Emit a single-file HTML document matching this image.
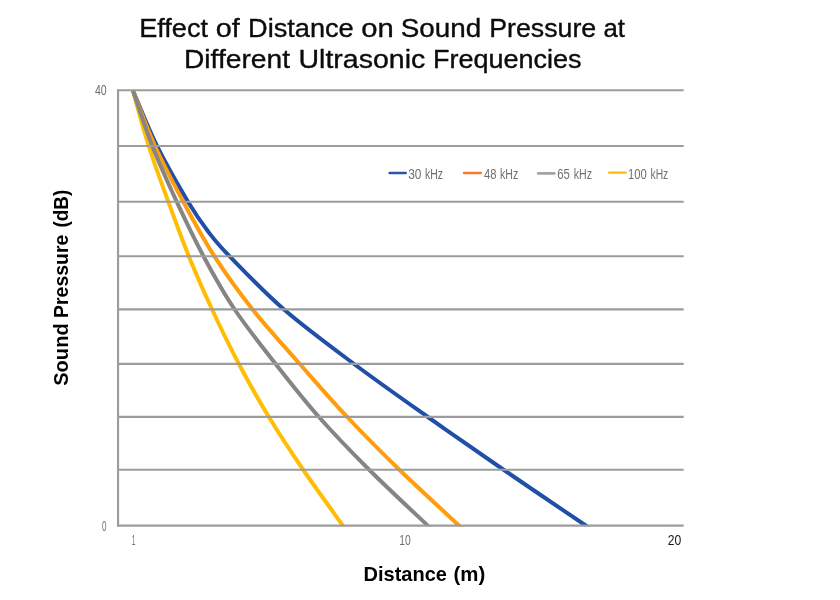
<!DOCTYPE html>
<html><head><meta charset="utf-8"><title>Chart</title>
<style>
html,body{margin:0;padding:0;background:#fff;}
body{width:840px;height:600px;overflow:hidden;font-family:"Liberation Sans",sans-serif;}
svg{display:block;will-change:transform;}
text{font-family:"Liberation Sans",sans-serif;}
</style></head><body>
<svg width="840" height="600" viewBox="0 0 840 600">
<rect width="840" height="600" fill="#fff"/>
<defs><clipPath id="cp"><rect x="110" y="89.2" width="600" height="437.0"/></clipPath></defs>
<g clip-path="url(#cp)">
<path d="M132.80 90.20 C136.83 99.50 147.80 127.42 157.00 146.00 C166.20 164.58 179.45 187.42 188.00 201.70 C196.55 215.98 201.38 222.62 208.30 231.70 C215.22 240.78 216.93 243.27 229.50 256.20 C242.07 269.12 263.04 291.32 283.75 309.25 C304.46 327.18 329.79 345.83 353.75 363.75 C377.71 381.67 402.59 399.12 427.50 416.75 C452.41 434.38 476.83 451.38 503.20 469.50 C529.57 487.62 571.95 516.17 585.70 525.50 L590.66 528.87" fill="none" stroke="#204fa8" stroke-width="4" stroke-linejoin="round"/>
<path d="M132.80 90.20 C136.50 99.50 146.60 127.42 155.00 146.00 C163.40 164.58 173.32 183.33 183.20 201.70 C193.08 220.07 202.77 238.27 214.30 256.20 C225.83 274.12 238.18 291.32 252.40 309.25 C266.62 327.18 283.83 345.83 299.60 363.75 C315.37 381.67 330.42 399.12 347.00 416.75 C363.58 434.38 380.43 451.38 399.10 469.50 C417.77 487.62 449.02 516.17 459.00 525.50 L463.38 529.60" fill="none" stroke="#ff9d0c" stroke-width="4" stroke-linejoin="round"/>
<path d="M132.80 90.20 C135.45 99.50 142.78 127.42 148.70 146.00 C154.62 164.58 161.62 183.33 168.30 201.70 C174.98 220.07 181.52 238.27 188.80 256.20 C196.08 274.12 203.68 291.32 212.00 309.25 C220.32 327.18 229.29 345.83 238.75 363.75 C248.21 381.67 258.04 399.12 268.75 416.75 C279.46 434.38 290.66 451.38 303.00 469.50 C315.34 487.62 336.17 516.17 342.80 525.50 L346.28 530.39" fill="none" stroke="#ffbd03" stroke-width="4" stroke-linejoin="round"/>
<path d="M132.80 90.20 C136.05 99.50 144.98 127.42 152.30 146.00 C159.62 164.58 168.17 183.33 176.70 201.70 C185.23 220.07 193.87 238.27 203.50 256.20 C213.13 274.12 222.50 291.32 234.50 309.25 C246.50 327.18 261.46 345.83 275.50 363.75 C289.54 381.67 303.18 399.12 318.75 416.75 C334.32 434.38 350.76 451.38 368.90 469.50 C387.04 487.62 417.82 516.17 427.60 525.50 L431.94 529.64" fill="none" stroke="#868584" stroke-width="4" stroke-linejoin="round"/>
</g>
<g stroke="#9c9c9c" stroke-width="2.15" fill="none">
<line x1="117" y1="90.2" x2="683.7" y2="90.2"/>
<line x1="117" y1="146.0" x2="683.7" y2="146.0"/>
<line x1="117" y1="201.7" x2="683.7" y2="201.7"/>
<line x1="117" y1="256.2" x2="683.7" y2="256.2"/>
<line x1="117" y1="309.4" x2="683.7" y2="309.4"/>
<line x1="117" y1="363.8" x2="683.7" y2="363.8"/>
<line x1="117" y1="416.9" x2="683.7" y2="416.9"/>
<line x1="117" y1="469.7" x2="683.7" y2="469.7"/>
<line x1="117" y1="525.6" x2="683.7" y2="525.6"/>
<line x1="118.05" y1="89.2" x2="118.05" y2="526.6"/>
</g>
<g fill="#0c0c0c" stroke="#0c0c0c" stroke-width="0.35" font-size="25.1">
<text x="139.25" y="37.0" textLength="68.75" lengthAdjust="spacingAndGlyphs">Effect</text>
<text x="215.75" y="37.0" textLength="24.00" lengthAdjust="spacingAndGlyphs">of</text>
<text x="248.00" y="37.0" textLength="105.75" lengthAdjust="spacingAndGlyphs">Distance</text>
<text x="361.25" y="37.0" textLength="32.50" lengthAdjust="spacingAndGlyphs">on</text>
<text x="400.75" y="37.0" textLength="80.50" lengthAdjust="spacingAndGlyphs">Sound</text>
<text x="489.25" y="37.0" textLength="107.00" lengthAdjust="spacingAndGlyphs">Pressure</text>
<text x="603.50" y="37.0" textLength="21.50" lengthAdjust="spacingAndGlyphs">at</text>
<text x="184.00" y="68.4" textLength="106.00" lengthAdjust="spacingAndGlyphs">Different</text>
<text x="298.50" y="68.4" textLength="126.75" lengthAdjust="spacingAndGlyphs">Ultrasonic</text>
<text x="433.00" y="68.4" textLength="148.50" lengthAdjust="spacingAndGlyphs">Frequencies</text>
</g>
<g fill="#000" font-size="19.9" font-weight="bold" opacity="0.999">
<text x="363.50" y="580.7" textLength="83.50" lengthAdjust="spacingAndGlyphs">Distance</text>
<text x="453.50" y="580.7" textLength="31.75" lengthAdjust="spacingAndGlyphs">(m)</text>
</g>
<g opacity="0.999" fill="#000" font-size="19.9" font-weight="bold" transform="translate(67.8 485.3) rotate(-90)">
<text x="99.50" y="0" textLength="62.50" lengthAdjust="spacingAndGlyphs">Sound</text>
<text x="167.25" y="0" textLength="83.50" lengthAdjust="spacingAndGlyphs">Pressure</text>
<text x="257.75" y="0" textLength="37.75" lengthAdjust="spacingAndGlyphs">(dB)</text>
</g>
<g font-size="14.2" fill="#707070" opacity="0.999">
<text x="95.00" y="95.0" textLength="11.75" lengthAdjust="spacingAndGlyphs">40</text>
<text x="102.00" y="530.6" textLength="4.50" lengthAdjust="spacingAndGlyphs">0</text>
<text x="131.75" y="544.8" textLength="3.75" lengthAdjust="spacingAndGlyphs">1</text>
<text x="399.25" y="544.8" textLength="11.50" lengthAdjust="spacingAndGlyphs">10</text>
<text x="408.25" y="178.6" textLength="13.25" lengthAdjust="spacingAndGlyphs">30</text>
<text x="425.00" y="178.6" textLength="18.00" lengthAdjust="spacingAndGlyphs">kHz</text>
<text x="484.00" y="178.6" textLength="12.50" lengthAdjust="spacingAndGlyphs">48</text>
<text x="500.00" y="178.6" textLength="18.25" lengthAdjust="spacingAndGlyphs">kHz</text>
<text x="557.25" y="178.6" textLength="12.75" lengthAdjust="spacingAndGlyphs">65</text>
<text x="573.75" y="178.6" textLength="18.25" lengthAdjust="spacingAndGlyphs">kHz</text>
<text x="628.00" y="178.6" textLength="18.75" lengthAdjust="spacingAndGlyphs">100</text>
<text x="650.50" y="178.6" textLength="17.75" lengthAdjust="spacingAndGlyphs">kHz</text>
</g>
<g font-size="14.2" fill="#1a1a1a" opacity="0.999">
<text x="667.75" y="544.8" textLength="13.50" lengthAdjust="spacingAndGlyphs">20</text>
</g>
<g stroke-width="2.4" stroke-linecap="round">
<line x1="389.6" y1="173.0" x2="405.8" y2="173.0" stroke="#2a56a8"/>
<line x1="464" y1="173.0" x2="480.8" y2="173.0" stroke="#f07e2c"/>
<line x1="538.3" y1="173.4" x2="554.2" y2="173.4" stroke="#a3a3a3" stroke-width="2.8"/>
<line x1="609.1" y1="172.6" x2="625.7" y2="172.6" stroke="#ffbd03"/>
</g>
</svg>
</body></html>
